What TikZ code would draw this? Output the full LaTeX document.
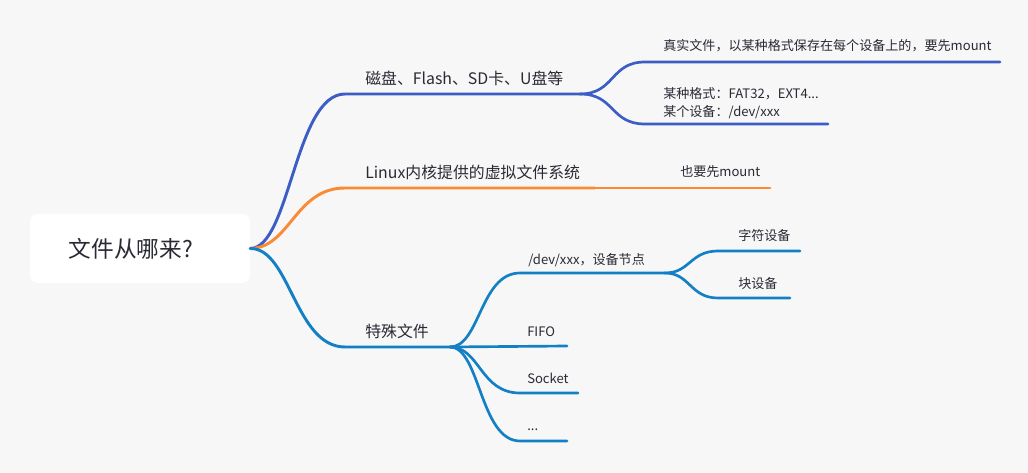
\documentclass[tikz,border=0pt]{standalone}
\usepackage{fontspec}
\setmainfont{Noto Sans CJK SC}
\usetikzlibrary{calc}
\definecolor{bgcol}{HTML}{F7F7F7}
\definecolor{txtcol}{HTML}{2A2A35}
\definecolor{diskcol}{HTML}{3D5DC6}
\definecolor{vfscol}{HTML}{FA8B36}
\definecolor{speccol}{HTML}{1380C5}

\begin{document}
\begin{tikzpicture}[x=0.75pt,y=-0.75pt,
    branch/.style={line width=2.2pt,line cap=round},
    leaf/.style={line width=2pt,line cap=round},
    btext/.style={anchor=base west,inner sep=0pt,text=txtcol,font=\fontsize{11.9pt}{14pt}\selectfont},
    stext/.style={anchor=base west,inner sep=0pt,text=txtcol,font=\fontsize{9.8pt}{13.5pt}\selectfont,align=left}]
    \fill[bgcol] (0,0) rectangle (1028,473); % background
    \useasboundingbox (0,0) rectangle (1028,473);
    \node[fill=white,rounded corners=6pt,minimum width=165pt,minimum height=51.75pt,
          text=txtcol,font=\fontsize{17pt}{20pt}\selectfont] (root) at (140,248.5) {文件从哪来?\kern13.5pt};
    % branch points
    \coordinate (disk-s) at (345,94);
    \coordinate (disk-e) at (580,94);
    \coordinate (vfs-s) at (345,188);
    \coordinate (vfs-e) at (595,188);
    \coordinate (spec-s) at (345,347);
    \coordinate (spec-e) at (450,347);
    % disk branch
    \draw[branch,diskcol] (root.east) .. controls (290,248) and (295,94) .. (disk-s) -- (disk-e);
    \node[btext] (disk) at (365,85) {磁盘、Flash、SD卡、U盘等};
    \coordinate (real-s) at (645,62);
    \coordinate (real-e) at (1000,62);
    \coordinate (fmt-s) at (645,124);
    \coordinate (fmt-e) at (828,124);
    \draw[leaf,diskcol] (disk-e) .. controls (615,94) and (610,62) .. (real-s) -- (real-e);
    \draw[leaf,diskcol] (disk-e) .. controls (615,94) and (610,124) .. (fmt-s) -- (fmt-e);
    \node[stext] (real) at (663,51) {真实文件，以某种格式保存在每个设备上的，要先mount};
    \node[stext,anchor=south west] (fmt) at (663,119) {某种格式：FAT32，EXT4...\\某个设备：/dev/xxx};
    % vfs branch
    \draw[branch,vfscol] (root.east) .. controls (290,248) and (295,188) .. (vfs-s) -- (vfs-e);
    \node[btext] (vfs) at (365,179) {Linux内核提供的虚拟文件系统};
    \coordinate (mnt-e) at (770,188);
    \draw[leaf,vfscol] (vfs-e) -- (mnt-e);
    \node[stext] (mnt) at (680,177) {也要先mount};
    % special files branch
    \draw[branch,speccol] (root.east) .. controls (290,248) and (295,347) .. (spec-s) -- (spec-e);
    \node[btext] (spec) at (365,338) {特殊文件};
    \coordinate (dev-s) at (520,273);
    \coordinate (dev-e) at (665,273);
    \coordinate (fifo-e) at (567,346);
    \coordinate (sock-s) at (520,393);
    \coordinate (sock-e) at (578,393);
    \coordinate (more-s) at (520,441);
    \coordinate (more-e) at (567,441);
    \draw[leaf,speccol] (spec-e) .. controls (480,347) and (480,273) .. (dev-s) -- (dev-e);
    \draw[leaf,speccol] (spec-e) -- (fifo-e);
    \draw[leaf,speccol] (spec-e) .. controls (480,347) and (480,393) .. (sock-s) -- (sock-e);
    \draw[leaf,speccol] (spec-e) .. controls (480,347) and (480,441) .. (more-s) -- (more-e);
    \node[stext] (dev) at (528,265) {/dev/xxx，设备节点};
    \node[stext] (fifo) at (527,337) {FIFO};
    \node[stext] (sock) at (527,384) {Socket};
    \node[stext] (more) at (527,431) {...};
    \coordinate (chr-s) at (718,251);
    \coordinate (chr-e) at (800,251);
    \coordinate (blk-s) at (718,298);
    \coordinate (blk-e) at (790,298);
    \draw[leaf,speccol] (dev-e) .. controls (690,273) and (690,251) .. (chr-s) -- (chr-e);
    \draw[leaf,speccol] (dev-e) .. controls (690,273) and (690,298) .. (blk-s) -- (blk-e);
    \node[stext] (chr) at (738,241) {字符设备};
    \node[stext] (blk) at (738,289) {块设备};
\end{tikzpicture}
\end{document}
